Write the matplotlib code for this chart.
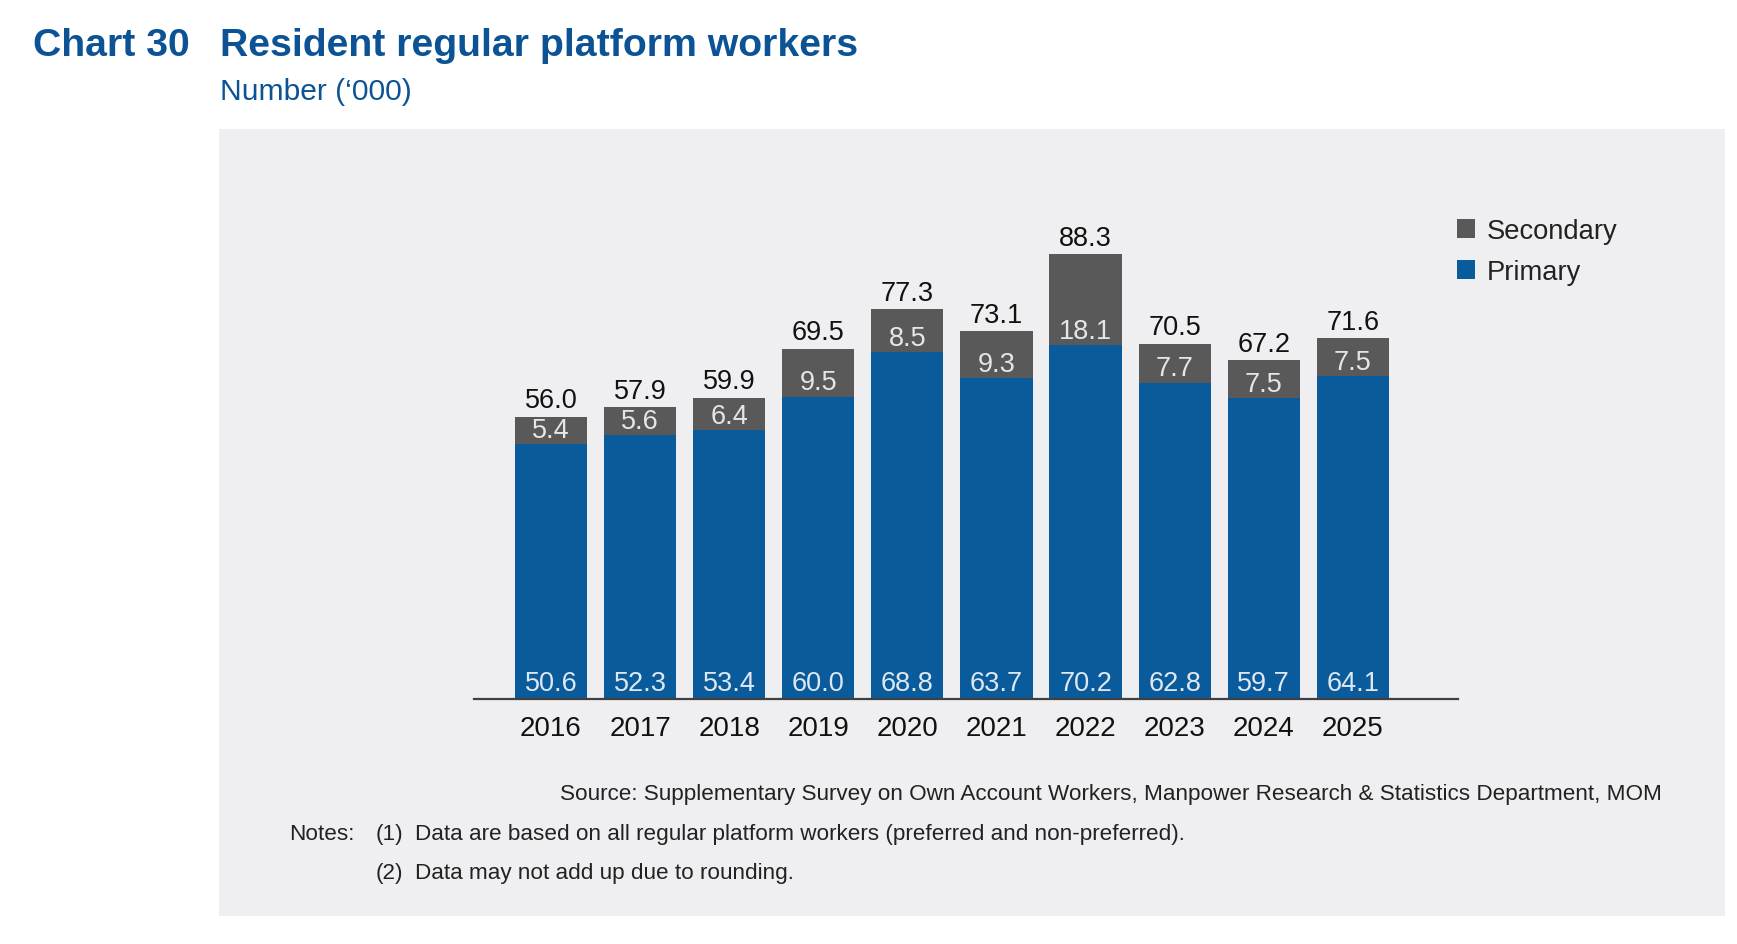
import matplotlib
matplotlib.use("Agg")
import matplotlib.pyplot as plt
from matplotlib.patches import Rectangle, Patch

years = ["2016", "2017", "2018", "2019", "2020", "2021", "2022", "2023", "2024", "2025"]
primary = [50.6, 52.3, 53.4, 60.0, 68.8, 63.7, 70.2, 62.8, 59.7, 64.1]
secondary = [5.4, 5.6, 6.4, 9.5, 8.5, 9.3, 18.1, 7.7, 7.5, 7.5]
totals = [56.0, 57.9, 59.9, 69.5, 77.3, 73.1, 88.3, 70.5, 67.2, 71.6]

BLUE = "#0a5b9c"
GREY = "#595959"
TITLE = "#0b5394"
PANEL = "#efeff1"

plt.rcParams["font.family"] = ["Liberation Sans", "DejaVu Sans"]

W, H = 1737, 945
fig = plt.figure(figsize=(W / 100, H / 100), dpi=100)
fig.patch.set_facecolor("white")

fig.patches.append(Rectangle((219 / W, 1 - 917 / H), (1725 - 219) / W, (917 - 130) / H,
                             transform=fig.transFigure, facecolor=PANEL, edgecolor="none", zorder=-5))

ax = fig.add_axes([474 / W, 1 - 700 / H, (1458 - 474) / W, 570 / H])
ax.set_zorder(2)
ax.set_facecolor("none")
x = list(range(len(years)))
bw = 0.81
ax.bar(x, primary, width=bw, color=BLUE, zorder=2)
ax.bar(x, secondary, width=bw, bottom=primary, color=GREY, zorder=2)
ax.set_xlim(-0.864, 10.18)
ax.set_ylim(0, 113.1)

lfs = 19.5
for i in x:
    ax.annotate(f"{totals[i]:.1f}", (i, primary[i] + secondary[i]), xytext=(0, 11.8),
                textcoords="offset points", ha="center", va="center", fontsize=lfs, color="#111111")
    ax.annotate(f"{secondary[i]:.1f}", (i, primary[i]), xytext=(0, 10.3),
                textcoords="offset points", ha="center", va="center", fontsize=lfs, color="#e6e6e6")
    ax.annotate(f"{primary[i]:.1f}", (i, 0), xytext=(0, 11.6),
                textcoords="offset points", ha="center", va="center", fontsize=lfs, color="#dfe8f2")

for s in ["top", "left", "right"]:
    ax.spines[s].set_visible(False)
ax.spines["bottom"].set_color("#404040")
ax.spines["bottom"].set_linewidth(1.6)
ax.spines["bottom"].set_zorder(3)
ax.set_yticks([])
ax.set_xticks(x, years)
ax.tick_params(axis="x", length=0, pad=11.8, labelsize=20, labelcolor="#111111")

handles = [Patch(facecolor=GREY, edgecolor="none"), Patch(facecolor=BLUE, edgecolor="none")]
fig.legend(handles, ["Secondary", "Primary"], loc="upper left",
           bbox_to_anchor=(1457 / W, 1 - 219 / H), bbox_transform=fig.transFigure,
           frameon=False, fontsize=19.7, handlelength=0.65, handleheight=0.65,
           handletextpad=0.45, labelspacing=0.55, borderpad=0, borderaxespad=0,
           labelcolor="#222222")

fig.text(33 / W, 1 - 45.5 / H, "Chart 30", fontsize=28.3, fontweight="bold", color=TITLE, va="center")
fig.text(220 / W, 1 - 45.5 / H, "Resident regular platform workers", fontsize=28.3,
         fontweight="bold", color=TITLE, va="center")
fig.text(220 / W, 1 - 92 / H, "Number (\u2018000)", fontsize=21.6, color=TITLE, va="center")

fs = 16.2
fig.text(1662 / W, 1 - 795 / H,
         "Source: Supplementary Survey on Own Account Workers, Manpower Research & Statistics Department, MOM",
         fontsize=fs, color="#222222", ha="right", va="center")
fig.text(289 / W, 1 - 835 / H, "Notes:", fontsize=fs, color="#222222", va="center")
fig.text(376 / W, 1 - 835 / H, "(1)", fontsize=fs, color="#222222", va="center")
fig.text(415 / W, 1 - 835 / H, "Data are based on all regular platform workers (preferred and non-preferred).",
         fontsize=fs, color="#222222", va="center")
fig.text(376 / W, 1 - 874 / H, "(2)", fontsize=fs, color="#222222", va="center")
fig.text(415 / W, 1 - 874 / H, "Data may not add up due to rounding.", fontsize=fs, color="#222222", va="center")

fig.savefig("out.png", dpi=100)
